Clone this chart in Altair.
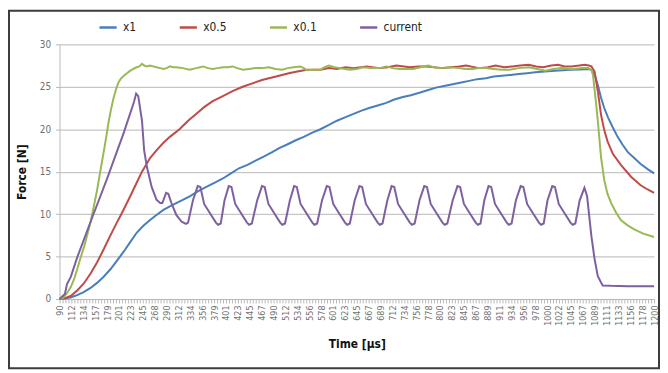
import json
import altair as alt
import pandas as pd

FONT = "Liberation Sans Narrow, DejaVu Sans Condensed, Liberation Sans, sans-serif"

x_labels = ["90", "112", "134", "157", "179", "201", "223", "245", "268", "290",
            "312", "334", "356", "379", "401", "423", "445", "467", "490", "512",
            "534", "556", "578", "601", "623", "645", "667", "689", "712", "734",
            "756", "778", "800", "823", "845", "867", "889", "911", "934", "956",
            "978", "1000", "1022", "1045", "1067", "1089", "1111", "1133", "1156",
            "1178", "1200"]
y_ticks = [0, 5, 10, 15, 20, 25, 30]
series_names = ["x1", "x0.5", "x0.1", "current"]
series_colors = ["#4A7EBB", "#BE4B48", "#98B954", "#7D60A0"]

x1_points = [
    (90, 0), (100, 0.05), (112, 0.2), (123, 0.45), (135, 0.8), (148, 1.3), (160, 1.9),
    (172, 2.6), (185, 3.5), (197, 4.5), (210, 5.6), (222, 6.7), (234, 7.8), (246, 8.6),
    (259, 9.3), (271, 9.9), (284, 10.5), (296, 10.9), (308, 11.3), (321, 11.7), (333, 12.1),
    (349, 12.7), (364, 13.2), (380, 13.7), (395, 14.2), (410, 14.8), (425, 15.4), (441, 15.8),
    (456, 16.3), (472, 16.8), (487, 17.3), (501, 17.8), (515, 18.2), (531, 18.7), (546, 19.1),
    (562, 19.6), (577, 20.0), (593, 20.5), (608, 21.0), (623, 21.4), (639, 21.8), (654, 22.2),
    (668, 22.5), (684, 22.8), (700, 23.1), (715, 23.5), (731, 23.8), (746, 24.0), (762, 24.3),
    (777, 24.6), (793, 24.9), (808, 25.1), (824, 25.3), (840, 25.5), (855, 25.7), (870, 25.9),
    (886, 26.0), (901, 26.2), (916, 26.3), (932, 26.4), (947, 26.5), (963, 26.6), (978, 26.7),
    (996, 26.8), (1015, 26.9), (1030, 26.95), (1045, 27.0), (1061, 27.05), (1077, 27.1),
    (1083, 27.0), (1089, 26.4), (1095, 25.2), (1101, 23.7), (1107, 22.5), (1114, 21.4),
    (1123, 20.2), (1132, 19.1), (1141, 18.2), (1151, 17.3), (1163, 16.6), (1175, 15.9),
    (1188, 15.3), (1200, 14.8)]

x05_points = [
    (90, 0), (100, 0.1), (112, 0.4), (123, 1.0), (135, 1.8), (148, 3.0), (160, 4.3), (172, 5.8),
    (185, 7.5), (197, 9.0), (207, 10.2), (222, 12.1), (234, 13.7), (244, 15.0), (259, 16.6),
    (271, 17.5), (284, 18.4), (296, 19.1), (314, 20.0), (330, 21.0), (345, 21.8), (360, 22.6),
    (376, 23.3), (395, 23.9), (413, 24.5), (432, 25.0), (450, 25.4), (468, 25.8), (481, 26.0),
    (500, 26.3), (518, 26.6), (534, 26.8), (552, 27.0), (577, 27.0), (593, 27.2), (608, 27.1),
    (624, 27.3), (639, 27.2), (663, 27.4), (688, 27.2), (703, 27.3), (719, 27.5), (744, 27.3),
    (760, 27.4), (775, 27.4), (790, 27.3), (805, 27.2), (820, 27.3), (836, 27.4), (849, 27.5),
    (873, 27.2), (890, 27.3), (904, 27.5), (920, 27.3), (935, 27.4), (950, 27.5), (966, 27.6),
    (980, 27.4), (993, 27.3), (1008, 27.5), (1021, 27.6), (1033, 27.4), (1046, 27.4),
    (1060, 27.5), (1071, 27.6), (1078, 27.5), (1083, 27.4), (1089, 26.8), (1095, 24.5),
    (1101, 21.7), (1107, 19.9), (1113, 18.6), (1123, 17.1), (1138, 15.8), (1157, 14.4),
    (1175, 13.4), (1188, 12.9), (1200, 12.5)]

x01_points = [
    (90, 0), (96, 0.1), (103, 0.6), (111, 1.4), (117, 2.3), (123, 3.5), (129, 4.8), (136, 6.2),
    (142, 7.6), (148, 9.1), (154, 10.9), (160, 12.8), (166, 15.0), (173, 17.5), (178, 19.4),
    (182, 21.0), (187, 22.6), (191, 23.7), (196, 24.8), (200, 25.5), (205, 26.0), (210, 26.3),
    (216, 26.6), (222, 26.9), (228, 27.1), (234, 27.3), (239, 27.4), (244, 27.7), (248, 27.5),
    (253, 27.4), (259, 27.5), (265, 27.4), (271, 27.3), (278, 27.2), (284, 27.1), (290, 27.2),
    (296, 27.4), (302, 27.3), (308, 27.3), (320, 27.2), (333, 27.0), (345, 27.2), (358, 27.4),
    (367, 27.2), (376, 27.1), (385, 27.2), (395, 27.3), (404, 27.3), (413, 27.4), (422, 27.2),
    (432, 27.0), (444, 27.1), (456, 27.2), (468, 27.2), (481, 27.3), (493, 27.1), (506, 27.0),
    (516, 27.2), (527, 27.3), (540, 27.4), (546, 27.2), (552, 26.95), (565, 27.0), (577, 27.0),
    (585, 27.3), (593, 27.5), (603, 27.3), (614, 27.2), (623, 27.1), (633, 27.0), (645, 27.1),
    (657, 27.3), (672, 27.2), (688, 27.2), (700, 27.4), (712, 27.2), (725, 27.1), (737, 27.1),
    (750, 27.1), (764, 27.3), (778, 27.5), (789, 27.3), (799, 27.2), (818, 27.3), (836, 27.2),
    (848, 27.1), (861, 27.1), (873, 27.2), (886, 27.2), (900, 27.1), (916, 27.0), (930, 27.0),
    (947, 27.2), (966, 27.3), (982, 27.1), (997, 26.9), (1012, 27.1), (1027, 27.2),
    (1040, 27.1), (1052, 27.1), (1065, 27.2), (1077, 27.2), (1083, 27.0), (1086, 26.4),
    (1092, 22.9), (1095, 21.0), (1101, 16.7), (1107, 14.0), (1113, 12.4), (1120, 11.3),
    (1129, 10.2), (1138, 9.3), (1150, 8.7), (1163, 8.2), (1180, 7.7), (1200, 7.3)]

current_points = [
    (90, 0), (100, 0.6), (104, 1.75), (111, 2.6), (123, 4.9), (148, 9.1), (179, 14.2),
    (210, 19.6), (229, 23.2), (233, 24.2), (237, 23.9), (244, 21.0), (248, 17.5), (253, 15.6),
    (262, 13.2), (271, 11.7), (278, 11.3), (282, 11.3), (289, 12.5), (293, 12.4), (299, 11.3),
    (308, 9.9), (318, 9.1), (326, 8.85), (330, 9.0), (339, 11.6), (348, 13.3),
    (353, 13.2), (360, 11.2), (373, 9.9), (382, 9.0), (386, 8.75), (391, 8.9), (398, 11.6), (406, 13.3),
    (411, 13.2), (418, 11.2), (431, 9.9), (440, 9.0), (444, 8.75), (449, 8.9), (459, 11.6), (468, 13.3),
    (473, 13.2), (480, 11.2), (493, 9.9), (502, 9.0), (506, 8.75), (511, 8.9), (520, 11.6), (528, 13.3),
    (533, 13.2), (540, 11.2), (553, 9.9), (562, 9.0), (566, 8.75), (571, 8.9), (580, 11.6), (589, 13.3),
    (594, 13.2), (601, 11.2), (614, 9.9), (623, 9.0), (627, 8.75), (632, 8.9), (641, 11.6), (650, 13.3),
    (655, 13.2), (662, 11.2), (675, 9.9), (684, 9.0), (688, 8.75), (693, 8.9), (702, 11.6), (710, 13.3),
    (715, 13.2), (722, 11.2), (735, 9.9), (744, 9.0), (748, 8.75), (753, 8.9), (762, 11.6), (771, 13.3),
    (776, 13.2), (783, 11.2), (796, 9.9), (805, 9.0), (809, 8.75), (814, 8.9), (824, 11.6), (833, 13.3),
    (838, 13.2), (845, 11.2), (858, 9.9), (867, 9.0), (871, 8.75), (876, 8.9), (883, 11.6), (891, 13.3),
    (896, 13.2), (903, 11.2), (916, 9.9), (925, 9.0), (929, 8.75), (934, 8.9), (942, 11.6), (951, 13.3),
    (956, 13.2), (963, 11.2), (976, 9.9), (985, 9.0), (989, 8.75), (994, 8.9), (1001, 11.6), (1010, 13.3),
    (1015, 13.2), (1022, 11.2), (1035, 9.9), (1044, 9.0), (1048, 8.75), (1053, 8.9), (1061, 11.6),
    (1070, 13.1), (1075, 12.1), (1083, 7.4), (1089, 4.7), (1095, 2.7), (1104, 1.6), (1120, 1.55),
    (1150, 1.5), (1180, 1.5), (1200, 1.5)]

rows = []
for name, pts in zip(series_names, [x1_points, x05_points, x01_points, current_points]):
    for t, v in pts:
        rows.append({"series": name, "t": t, "v": v})
df = pd.DataFrame(rows)

# axis tick positions: one per sample, labels on every 4th
n_steps = (len(x_labels) - 1) * 4
x0, x1 = 90, 1200
tick_pos = [x0 + i * (x1 - x0) / n_steps for i in range(n_steps + 1)]
label_step = (x1 - x0) / (len(x_labels) - 1)
minor_step = label_step / 4
label_expr = (
    f"(round((datum.value-{x0})/{minor_step}) % 4 == 0) ? "
    f"{json.dumps(x_labels)}[round((datum.value-{x0})/{label_step})] : ''"
)

x_enc = alt.X(
    "t:Q",
    scale=alt.Scale(domain=[x0, x1], nice=False, zero=False),
    axis=alt.Axis(
        values=tick_pos, labelExpr=label_expr, labelAngle=-90, labelOverlap=False,
        labelFlush=False, labelBound=False, labelFontSize=9, labelColor="#707070",
        labelFont=FONT, labelPadding=2, tickSize=4, tickColor="#b8b8b8", tickWidth=1,
        domainColor="#b8b8b8", grid=False, title="Time [μs]", titleFont=FONT,
        titleFontSize=12, titleFontWeight="bold", titleColor="#111111", titlePadding=13,
    ),
)
y_enc = alt.Y(
    "v:Q",
    scale=alt.Scale(domain=[0, 30], nice=False),
    axis=alt.Axis(
        values=y_ticks, labelFontSize=10, labelColor="#707070", labelFont=FONT,
        labelPadding=5, tickSize=4, tickColor="#b8b8b8", domainColor="#b8b8b8",
        grid=True, gridColor="#c6c6c6", gridWidth=1.2, title="Force [N]",
        titleFont=FONT, titleFontSize=12, titleFontWeight="bold", titleColor="#111111",
        titlePadding=11,
    ),
)
color_enc = alt.Color(
    "series:N",
    scale=alt.Scale(domain=series_names, range=series_colors),
    legend=alt.Legend(
        orient="none", legendX=39, legendY=-27, direction="horizontal", columns=4,
        title=None, symbolType="stroke", symbolSize=300, symbolStrokeWidth=2.5,
        labelFont=FONT, labelFontSize=12, labelColor="#222222", labelOffset=5,
        columnPadding=38, padding=0,
    ),
)

lines = [
    alt.Chart(df)
    .transform_filter(alt.datum.series == name)
    .mark_line(strokeWidth=2)
    .encode(x=x_enc, y=y_enc, color=color_enc)
    for name in series_names
]

border = (
    alt.Chart(alt.Data(values=[{}]))
    .mark_rect(filled=False, stroke="#3c3c3c", strokeWidth=2, clip=False)
    .encode(x=alt.value(-51), x2=alt.value(605), y=alt.value(-34), y2=alt.value(327))
)

chart = (
    alt.layer(border, *lines)
    .properties(
        width=600, height=257,
        autosize=alt.AutoSizeParams(type="none"),
        padding={"left": 52, "top": 35, "right": 6, "bottom": 73},
        background="white",
    )
    .configure_view(stroke=None)
)

chart.save("out.html", embed_options={"renderer": "svg", "actions": False})
